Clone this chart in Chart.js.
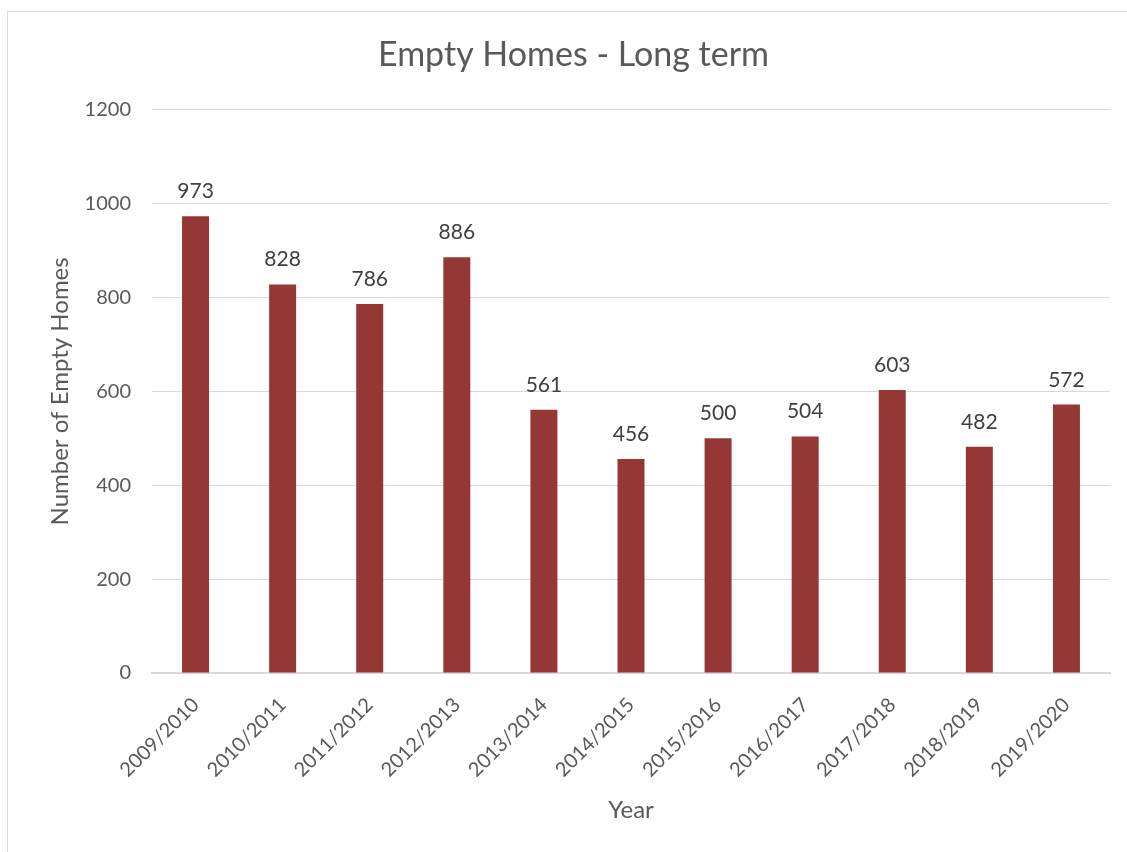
<!DOCTYPE html>
<html>
<head>
<meta charset="utf-8">
<script src="https://cdn.jsdelivr.net/npm/chart.js@4/dist/chart.umd.min.js"></script>
<style>
  html, body { margin: 0; padding: 0; background: #fff; overflow: hidden; }
  #frame {
    position: absolute; left: 7px; top: 11px;
    width: 1200px; height: 900px;
    border-top: 1px solid #d9d9d9; border-left: 1px solid #d9d9d9;
  }
  #wrap { position: absolute; left: 8px; top: 12px; width: 1119px; height: 840px; }
</style>
</head>
<body>
<div id="frame"></div>
<div id="wrap"><canvas id="emptyHomes"></canvas></div>
<script>
const years = ['2009/2010', '2010/2011', '2011/2012', '2012/2013', '2013/2014', '2014/2015',
  '2015/2016', '2016/2017', '2017/2018', '2018/2019', '2019/2020'];
const emptyHomes = [973, 828, 786, 886, 561, 456, 500, 504, 603, 482, 572];
const yTicks = [0, 200, 400, 600, 800, 1000, 1200];

const fontFamily = 'Lato, "Open Sans", sans-serif';
const textGrey = '#595959';
const lineGrey = '#d9d9d9';

// values above each bar
const barLabels = {
  id: 'barLabels',
  afterDatasetsDraw(chart) {
    const c = chart.ctx;
    const meta = chart.getDatasetMeta(0);
    c.save();
    c.font = '21px ' + fontFamily;
    c.fillStyle = '#404040';
    c.textAlign = 'center';
    c.textBaseline = 'alphabetic';
    meta.data.forEach((bar, i) => {
      c.fillText(emptyHomes[i], bar.x, bar.y - 18);
    });
    c.restore();
  }
};

const ctx = document.getElementById('emptyHomes').getContext('2d');
new Chart(ctx, {
  type: 'bar',
  data: {
    labels: years,
    datasets: [{
      label: 'Empty Homes',
      data: emptyHomes,
      backgroundColor: '#953735',
      borderWidth: 0,
      barPercentage: 0.31,
      categoryPercentage: 1
    }]
  },
  options: {
    responsive: true,
    maintainAspectRatio: false,
    animation: false,
    layout: { padding: { left: 29, right: 17, top: 0, bottom: 0 } },
    plugins: {
      legend: { display: false },
      tooltip: { enabled: false },
      title: {
        display: true,
        text: 'Empty Homes - Long term',
        color: textGrey,
        font: { family: fontFamily, size: 34, weight: 'normal' },
        padding: { top: 23, bottom: 34 }
      }
    },
    scales: {
      x: {
        grid: { display: false },
        border: { color: lineGrey, width: 2 },
        ticks: {
          color: textGrey,
          font: { family: fontFamily, size: 20 },
          minRotation: 45,
          maxRotation: 45,
          padding: 12
        },
        title: {
          display: true,
          text: 'Year',
          color: textGrey,
          font: { family: fontFamily, size: 24 },
          padding: { top: 0, bottom: 27 }
        },
        afterFit(scale) { scale.height = 179; }
      },
      y: {
        min: 0,
        max: 1200,
        afterBuildTicks(scale) { scale.ticks = yTicks.map(v => ({ value: v })); },
        grid: { color: lineGrey, drawTicks: false },
        border: { display: false },
        ticks: {
          color: textGrey,
          font: { family: fontFamily, size: 20 },
          padding: 21,
          callback: v => String(v)
        },
        title: {
          display: true,
          text: 'Number of Empty Homes',
          color: textGrey,
          font: { family: fontFamily, size: 24 },
          padding: { top: 9, bottom: 0 }
        },
        afterFit(scale) { scale.width = 115; }
      }
    }
  },
  plugins: [barLabels]
});
</script>
</body>
</html>
